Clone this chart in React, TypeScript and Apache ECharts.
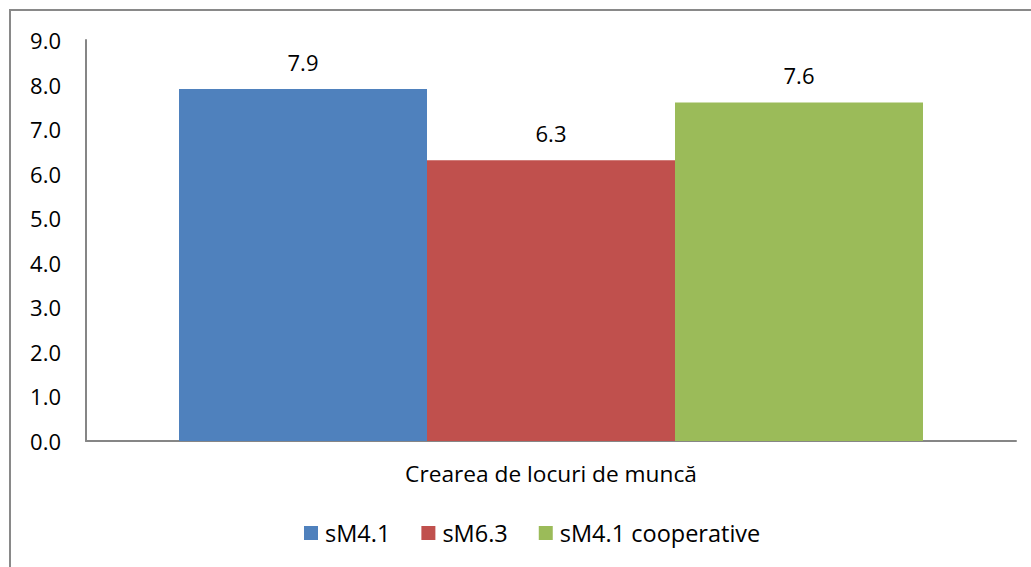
import React, { useEffect, useRef } from "react";
import * as echarts from "echarts";

const categories = ["Crearea de locuri de muncă"];
const seriesNames = ["sM4.1", "sM6.3", "sM4.1 cooperative"];
const seriesValues = [[7.9], [6.3], [7.6]];
const seriesColors = ["#4F81BD", "#C0504D", "#9BBB59"];

export default function App() {
  const ref = useRef<HTMLDivElement>(null);
  useEffect(() => {
    if (!ref.current) return;
    const chart = echarts.init(ref.current, null, { renderer: "svg" });
    const font = "'Open Sans', 'DejaVu Sans', sans-serif";
    chart.setOption({
      animation: false,
      textStyle: { fontFamily: font },
      graphic: [
        {
          type: "rect",
          shape: { x: 10, y: 10, width: 1030, height: 570 },
          style: { fill: "none", stroke: "#898989", lineWidth: 2 },
          silent: true,
        },
      ],
      grid: { left: 86, right: 15, top: 40, bottom: 126, containLabel: false },
      legend: {
        bottom: 17,
        left: 299,
        itemWidth: 14,
        itemHeight: 14,
        itemGap: 31,
        icon: "rect",
        textStyle: { fontSize: 23.5, color: "#000", fontFamily: font, padding: [0, 0, 0, 2] },
        data: seriesNames,
      },
      xAxis: {
        type: "category",
        data: categories,
        axisLine: { lineStyle: { color: "#868686", width: 2 } },
        axisTick: { show: false },
        axisLabel: { fontSize: 22.7, color: "#000", margin: 21, fontFamily: font },
      },
      yAxis: {
        type: "value",
        min: 0,
        max: 9,
        interval: 1,
        axisLine: { show: true, lineStyle: { color: "#868686", width: 2 } },
        axisTick: { show: false },
        splitLine: { show: false },
        axisLabel: {
          fontSize: 22,
          color: "#000",
          margin: 25,
          fontFamily: font,
          formatter: (v: number) => v.toFixed(1),
        },
      },
      series: seriesNames.map((name, i) => ({
        name,
        type: "bar",
        data: seriesValues[i],
        barGap: "0%",
        barCategoryGap: "20%",
        itemStyle: { color: seriesColors[i] },
        label: {
          show: true,
          position: "top",
          distance: 16,
          fontSize: 22,
          color: "#000",
          fontFamily: font,
          formatter: (p: any) => Number(p.value).toFixed(1),
        },
      })),
    });
    return () => chart.dispose();
  }, []);
  return (
    <div
      ref={ref}
      style={{ position: "absolute", left: 0, top: 0, width: 1031, height: 567 }}
    />
  );
}
